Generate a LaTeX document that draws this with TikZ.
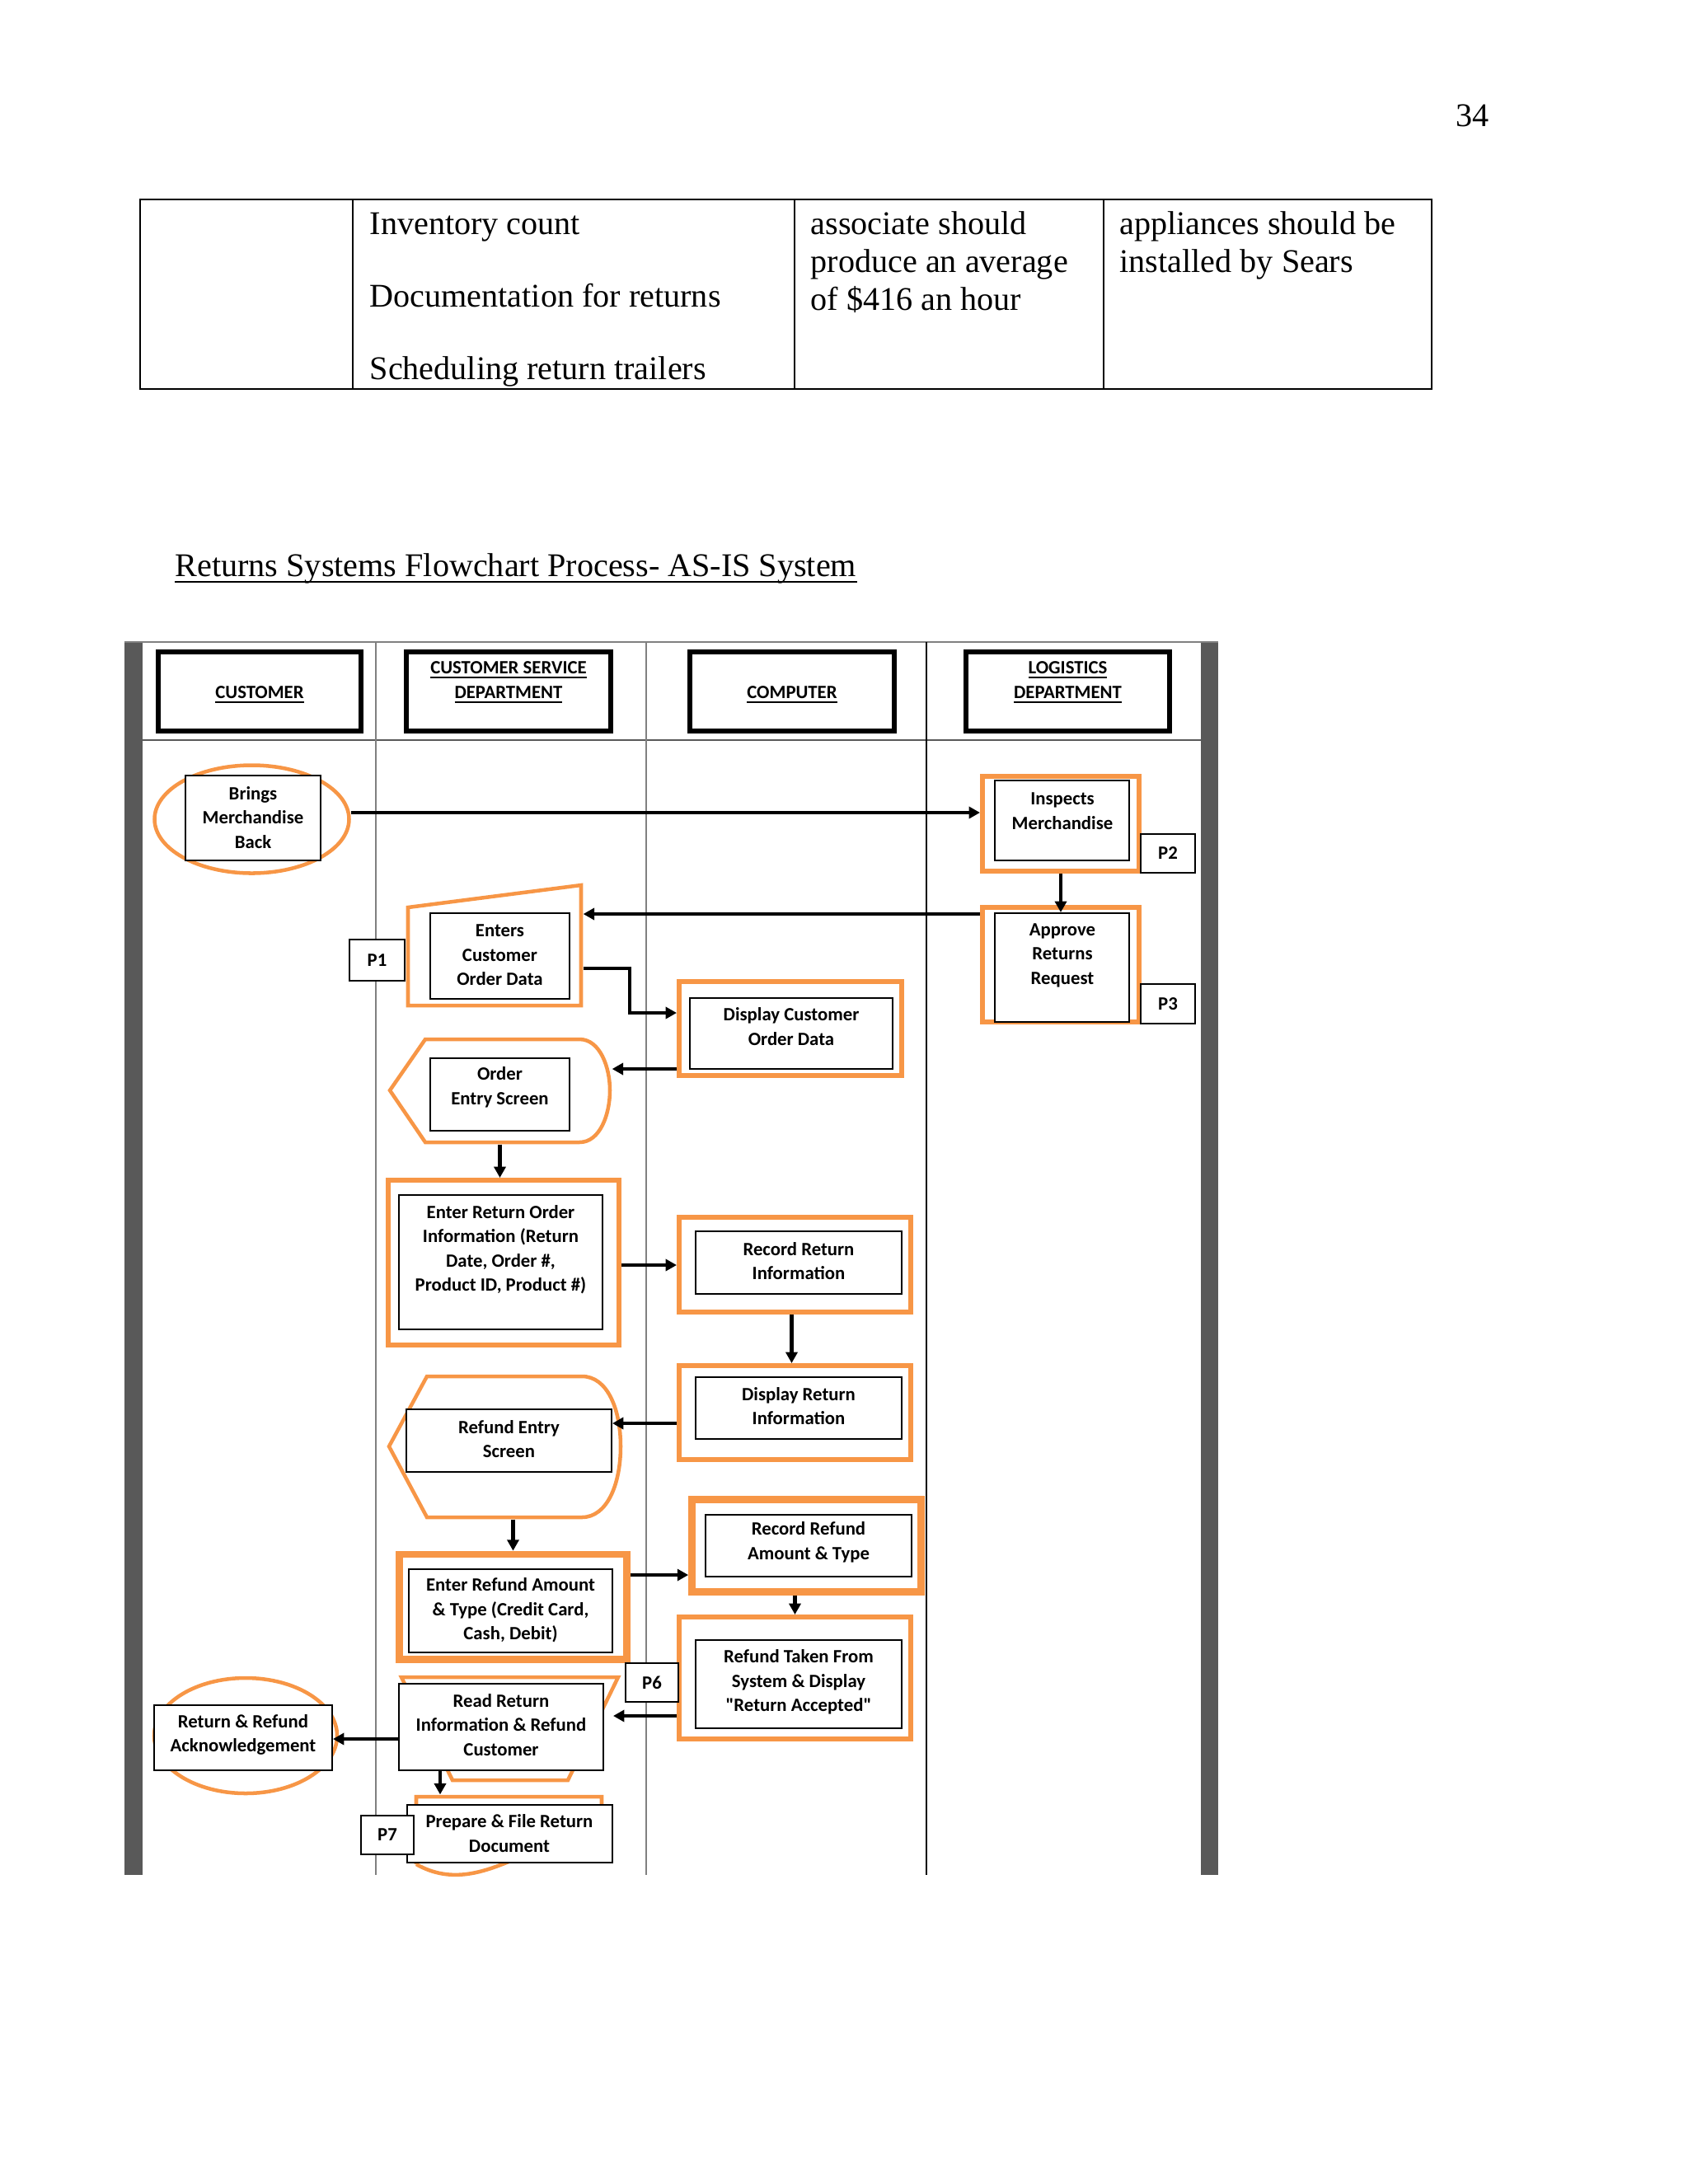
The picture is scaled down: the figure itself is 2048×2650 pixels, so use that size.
\documentclass[tikz,border=0pt]{standalone}
\usepackage{fontspec}
\setmainfont{Liberation Serif}
\newfontfamily\calf{Carlito}
\usetikzlibrary{shapes.geometric,arrows.meta,fit,calc}
\definecolor{orng}{HTML}{F79646}
\definecolor{barg}{HTML}{595959}
\definecolor{laneg}{HTML}{808080}
\newcommand\pxl[1]{#1*0.29883pt}
\begin{document}
\begin{tikzpicture}[x=0.29883pt,y=-0.29883pt,
  orng1/.style={draw=orng,line width=1.35pt,inner sep=0pt},
  orng2/.style={draw=orng,line width=1.8pt,inner sep=0pt},
  orng3/.style={draw=orng,line width=2.6pt,inner sep=0pt},
  outline/.style={inner sep=0pt},
  box/.style={draw=black,line width=0.6pt,fill=white,inner sep=0pt},
  hdr/.style={draw=black,line width=1.8pt,inner sep=0pt},
  hdrtxt/.style={font=\calf\bfseries\fontsize{6.8}{9}\selectfont,align=center,inner sep=0pt},
  ptxt/.style={font=\calf\bfseries\fontsize{6.8}{8.8}\selectfont,align=center,inner sep=0pt},
  tbl/.style={font=\fontsize{12}{13.8}\selectfont,anchor=base west,inner sep=0pt},
  arr/.style={line width=1.2pt,-{Triangle[length=4pt,width=4.2pt]}}
]
\useasboundingbox (0,0) rectangle (2048,2650);

% ---- page number, table, title
\node[tbl] (pg) at (1766,153) {34};
\draw[line width=0.6pt] (170,242) rectangle (1737,472);
\foreach \xx in {428,964,1339} \draw[line width=0.6pt] (\xx,242) -- (\xx,472);
\node[tbl] (t1) at (448,284) {Inventory count};
\node[tbl] (t2) at (448,372) {Documentation for returns};
\node[tbl] (t3) at (448,460) {Scheduling return trailers};
\node[tbl] (t4) at (983,284) {associate should};
\node[tbl] (t5) at (983,330) {produce an average};
\node[tbl] (t6) at (983,376) {of \$416 an hour};
\node[tbl] (t7) at (1358,284) {appliances should be};
\node[tbl] (t8) at (1358,330) {installed by Sears};
\node[tbl] (title) at (212,699) {Returns Systems Flowchart Process- AS-IS System};
\draw[line width=0.6pt] ($(title.base west)+(0,7)$) -- ($(title.base east)+(0,7)$);

% ---- swimlane frame
\fill[barg] (151,779) rectangle (173,2275);
\fill[barg] (1457,779) rectangle (1478,2275);
\draw[laneg,line width=0.6pt] (151,779) -- (1478,779);
\draw[barg,line width=0.6pt] (173,898) -- (1457,898);
\draw[laneg,line width=0.7pt] (456,779) -- (456,2275);
\draw[laneg,line width=0.7pt] (784,779) -- (784,2275);
\draw[black,line width=0.6pt] (1124,779) -- (1124,2275);

% ---- headers
\node[hdr,fit={(192,791)(438,887)}] (hCust) {};
\node[hdrtxt] (hCustT) at (315,843) {\underline{CUSTOMER}};
\node[hdr,fit={(493,791)(741,887)}] (hCSD) {};
\node[hdrtxt] (hCSDT) at (617,828) {\underline{CUSTOMER SERVICE}\\\underline{DEPARTMENT}};
\node[hdr,fit={(837,791)(1085,887)}] (hComp) {};
\node[hdrtxt] (hCompT) at (961,843) {\underline{COMPUTER}};
\node[hdr,fit={(1172,791)(1419,887)}] (hLog) {};
\node[hdrtxt] (hLogT) at (1295.5,828) {\underline{LOGISTICS}\\\underline{DEPARTMENT}};

% ---- orange outer shapes
\node[ellipse,orng1,minimum width=\pxl{236},minimum height=\pxl{131}] (bringsO) at (305.5,994) {};
\node[orng2,fit={(1192,942)(1382,1057)}] (inspO) {};
\node[orng2,fit={(1192,1101)(1382,1239.5)}] (apprO) {};
\draw[orng1] (495,1101) -- (705,1074) -- (705,1220) -- (495,1220) -- cycle;
\node[outline,fit={(493,1072)(707,1222)}] (entersO) {};
\node[orng2,fit={(824,1191)(1094,1305)}] (dispCustO) {};
\draw[orng1] (473,1323) -- (516,1261) -- (703,1261)
  .. controls (728,1261) and (740,1295) .. (740,1323)
  .. controls (740,1352) and (728,1386) .. (703,1386) -- (516,1386) -- cycle;
\node[outline,fit={(471,1259)(742,1388)}] (oesO) {};
\node[orng2,fit={(471,1432)(751,1632)}] (enterRetO) {};
\node[orng2,fit={(824,1477)(1105,1592)}] (recRetO) {};
\node[orng2,fit={(824,1657)(1105,1771)}] (dispRetO) {};
\draw[orng1] (472,1755) -- (518,1670) -- (706,1670)
  .. controls (737,1670) and (753,1710) .. (753,1755)
  .. controls (753,1800) and (737,1841) .. (706,1841) -- (518,1841) -- cycle;
\node[outline,fit={(470,1668)(755,1843)}] (refEntryO) {};
\node[orng3,fit={(484.5,1886)(760.5,2013.5)}] (enterRefO) {};
\node[orng3,fit={(839.5,1819.5)(1117.5,1931.5)}] (recRefO) {};
\node[orng2,fit={(824,1962)(1105,2110)}] (refTakenO) {};
\draw[orng1] (487,2035) -- (750,2035) -- (689,2160) -- (549,2160) -- cycle;
\node[outline,fit={(485,2033)(752,2162)}] (readRetO) {};
\node[ellipse,orng1,minimum width=\pxl{222},minimum height=\pxl{140}] (ackO) at (298,2106) {};
\draw[orng1] (505,2262) -- (505,2180) -- (730,2180) -- (730,2245)
  .. controls (660,2205) and (590,2310) .. (505,2262);
\node[outline,fit={(503,2178)(732,2275)}] (prepO) {};

% ---- inner boxes
\node[box,fit={(225,941)(389,1044)}] (bringsI) {};
\node[box,fit={(1207,947)(1370,1044)}] (inspI) {};
\node[box,fit={(1207,1108)(1370,1240)}] (apprI) {};
\node[box,fit={(1384,1012)(1450,1059)}] (p2) {};
\node[box,fit={(1384,1194)(1450,1242)}] (p3) {};
\node[box,fit={(522,1108)(691,1212)}] (entersI) {};
\node[box,fit={(424,1140)(491,1190)}] (p1) {};
\node[box,fit={(837,1211)(1083,1297)}] (dispCustI) {};
\node[box,fit={(522,1284)(691,1372)}] (oesI) {};
\node[box,fit={(484,1450)(731,1613)}] (enterRetI) {};
\node[box,fit={(844,1494)(1094,1570)}] (recRetI) {};
\node[box,fit={(844,1671)(1094,1746)}] (dispRetI) {};
\node[box,fit={(493,1710)(742,1786)}] (refEntryI) {};
\node[box,fit={(496,1904)(743,2005)}] (enterRefI) {};
\node[box,fit={(856,1838)(1106,1913)}] (recRefI) {};
\node[box,fit={(844,1990)(1094,2097)}] (refTakenI) {};
\node[box,fit={(759,2018)(823,2065)}] (p6) {};
\node[box,fit={(484,2043)(732,2148)}] (readRetI) {};
\node[box,fit={(187,2069)(403,2148)}] (ackI) {};
\node[box,fit={(494,2190)(743,2260)}] (prepI) {};
\node[box,fit={(438,2203)(502,2250)}] (p7) {};

% ---- texts
\node[ptxt] (bringsT) at (307,992) {Brings\\Merchandise\\Back};
\node[ptxt] (inspT) at (1289,984) {Inspects\\Merchandise};
\node[ptxt] (apprT) at (1289,1159) {Approve\\Returns\\Request};
\node[ptxt] (p2T) at (p2.center) {P2};
\node[ptxt] (p3T) at (p3.center) {P3};
\node[ptxt] (entersT) at (606.5,1159) {Enters\\Customer\\Order Data};
\node[ptxt] (p1T) at (p1.center) {P1};
\node[ptxt] (dispCustT) at (960,1245.5) {Display Customer\\Order Data};
\node[ptxt] (oesT) at (606.5,1319.5) {Order\\Entry Screen};
\node[ptxt] (enterRetT) at (607.5,1516) {Enter Return Order\\Information (Return\\Date, Order \#,\\Product ID, Product \#)};
\node[ptxt] (recRetT) at (969,1530) {Record Return\\Information};
\node[ptxt] (dispRetT) at (969,1706) {Display Return\\Information};
\node[ptxt] (refEntryT) at (617.5,1746) {Refund Entry\\Screen};
\node[ptxt] (enterRefT) at (619.5,1954) {Enter Refund Amount\\\& Type (Credit Card,\\Cash, Debit)};
\node[ptxt] (recRefT) at (981,1871.5) {Record Refund\\Amount \& Type};
\node[ptxt] (refTakenT) at (969,2041) {Refund Taken From\\System \& Display\\"Return Accepted"};
\node[ptxt] (p6T) at (p6.center) {P6};
\node[ptxt] (readRetT) at (608,2093) {Read Return\\Information \& Refund\\Customer};
\node[ptxt] (ackT) at (295,2105) {Return \& Refund\\Acknowledgement};
\node[ptxt] (prepT) at (618,2224.5) {Prepare \& File Return\\Document};
\node[ptxt] (p7T) at (p7.center) {P7};

% ---- connectors
\draw[arr] (bringsO.east |- 0,986) -- (inspO.west |- 0,986);
\draw[arr] (inspO.south) -- (inspO.south |- apprI.north);
\draw[arr] (apprO.west |- 0,1109) -- (entersO.east |- 0,1109);
\draw[arr] (entersO.east |- 0,1175) -| (764,1229) -- (dispCustO.west |- 0,1229);
\draw[arr] (dispCustO.west |- 0,1297) -- (oesO.east |- 0,1297);
\draw[arr] (oesO.south) -- (oesO.south |- enterRetO.north);
\draw[arr] (enterRetO.east |- 0,1535) -- (recRetO.west |- 0,1535);
\draw[arr] ($(recRetO.south)+(-4,0)$) coordinate (a8s) -- (a8s |- dispRetO.north);
\draw[arr] (dispRetO.west |- 0,1727) -- (refEntryI.east |- 0,1727);
\draw[arr] (enterRefO.north |- refEntryO.south) -- (enterRefO.north);
\draw[arr] (enterRefO.east |- 0,1911) -- (recRefO.west |- 0,1911);
\draw[arr] (refTakenO.north |- recRefO.south) -- (refTakenO.north);
\draw[arr] (refTakenO.west |- 0,2082) -- ($(readRetI.east |- 0,2082)+(11,0)$);
\draw[arr] (readRetI.west |- 0,2110) -- (ackI.east |- 0,2110);
\draw[arr] ($(readRetI.south west)+(51,0)$) coordinate (a15s) -- (a15s |- prepO.north);
\end{tikzpicture}
\end{document}
